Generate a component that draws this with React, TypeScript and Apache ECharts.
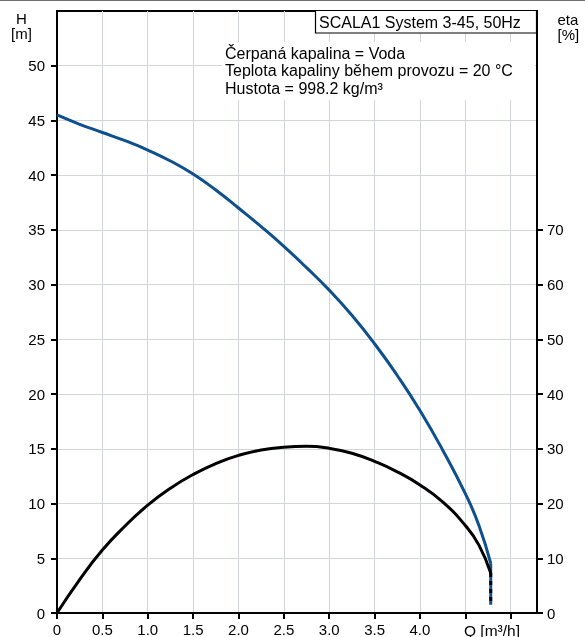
import React, { useEffect, useRef } from "react";
import * as echarts from "echarts";

const qHead = [0, 0.25, 0.5, 0.75, 1.0, 1.25, 1.5, 1.75, 2.0, 2.25, 2.5, 2.75, 3.0, 3.25, 3.5, 3.75, 4.0, 4.25, 4.5, 4.65, 4.78];
const headValues = [45.5, 44.65, 43.9, 43.15, 42.3, 41.3, 40.1, 38.65, 37.0, 35.3, 33.5, 31.55, 29.5, 27.2, 24.6, 21.7, 18.5, 14.9, 10.9, 8.0, 4.54];
const qEta = [0, 0.25, 0.5, 0.75, 1.0, 1.25, 1.5, 1.75, 2.0, 2.25, 2.5, 2.75, 3.0, 3.25, 3.5, 3.75, 4.0, 4.25, 4.5, 4.65, 4.78];
const etaValues = [0, 6.1, 11.5, 15.9, 19.7, 22.8, 25.3, 27.3, 28.8, 29.8, 30.3, 30.45, 30.1, 29.2, 27.7, 25.8, 23.4, 20.3, 16.0, 12.4, 7.3];
const headTail = [[4.78, 4.54], [4.78, 0.76]];
const etaTail = [[4.78, 7.3], [4.78, 1.5]];

const xTicks = [0, 0.5, 1.0, 1.5, 2.0, 2.5, 3.0, 3.5, 4.0, 4.5, 5.0];
const xLabels = [0, 0.5, 1.0, 1.5, 2.0, 2.5, 3.0, 3.5, 4.0];
const hTicks = [0, 5, 10, 15, 20, 25, 30, 35, 40, 45, 50];
const etaTicks = [0, 10, 20, 30, 40, 50, 60, 70];

const title = "SCALA1 System 3-45, 50Hz";
const notes = ["Čerpaná kapalina = Voda", "Teplota kapaliny během provozu = 20 °C", "Hustota = 998.2 kg/m³"];

const FONT = "'Liberation Sans', Arial, sans-serif";
const BLUE = "#0e4f8e";

export default function App() {
  const ref = useRef<HTMLDivElement>(null);
  useEffect(() => {
    if (!ref.current) return;
    const chart = echarts.init(ref.current, null, { renderer: "svg" });
    const txt = (text: string, x: number, y: number, align = "left", size = 16) => ({
      type: "text",
      x,
      y,
      z: 101,
      style: { text, fill: "#000", font: `${size}px ${FONT}`, textAlign: align, textVerticalAlign: "middle" },
    });
    chart.setOption({
      animation: false,
      textStyle: { fontFamily: FONT },
      grid: { left: 57, right: 48, top: 11, bottom: 20, show: true, borderColor: "#000", borderWidth: 2, backgroundColor: "transparent" },
      xAxis: {
        type: "value",
        min: 0,
        max: 5.29,
        interval: 0.5,
        axisLine: { onZero: false, lineStyle: { color: "#000", width: 2 } },
        axisTick: { length: 6, lineStyle: { color: "#000", width: 2 }, customValues: xTicks },
        axisLabel: {
          customValues: xLabels,
          color: "#000",
          fontSize: 15,
          margin: 9,
          formatter: (v: number) => (v === 0 ? "0" : v.toFixed(1)),
        },
        splitLine: { show: true, lineStyle: { color: "#d2d5d9", width: 1 } },
      },
      yAxis: [
        {
          type: "value",
          min: 0,
          max: 55,
          interval: 5,
          axisLine: { show: true, lineStyle: { color: "#000", width: 2 } },
          axisTick: { show: true, length: 6, lineStyle: { color: "#000", width: 2 }, customValues: hTicks },
          axisLabel: { customValues: hTicks, color: "#000", fontSize: 15, margin: 12 },
          splitLine: { show: true, lineStyle: { color: "#d2d5d9", width: 1 } },
        },
        {
          type: "value",
          position: "right",
          min: 0,
          max: 110,
          interval: 10,
          axisLine: { show: true, lineStyle: { color: "#000", width: 2 } },
          axisTick: { show: true, length: 6, lineStyle: { color: "#000", width: 2 }, customValues: etaTicks },
          axisLabel: { customValues: etaTicks, color: "#000", fontSize: 15, margin: 10 },
          splitLine: { show: false },
        },
      ],
      series: [
        {
          type: "line",
          yAxisIndex: 0,
          data: qHead.map((q, i) => [q, headValues[i]]),
          smooth: 0.5,
          symbol: "none",
          silent: true,
          lineStyle: { color: BLUE, width: 3 },
          z: 3,
        },
        {
          type: "line",
          yAxisIndex: 1,
          data: qEta.map((q, i) => [q, etaValues[i]]),
          smooth: 0.5,
          symbol: "none",
          silent: true,
          lineStyle: { color: "#000", width: 3 },
          z: 4,
        },
        {
          type: "line",
          yAxisIndex: 0,
          data: headTail,
          symbol: "none",
          silent: true,
          lineStyle: { color: BLUE, width: 3 },
          z: 3,
        },
        {
          type: "line",
          yAxisIndex: 1,
          data: etaTail,
          symbol: "none",
          silent: true,
          lineStyle: { color: "#000", width: 3, type: [4, 4] },
          z: 4,
        },
      ],
      graphic: [
        { type: "rect", z: 100, shape: { x: 0, y: 0, width: 585, height: 1 }, style: { fill: "#6e6e6e" } },
        { type: "rect", z: 100, shape: { x: 222, y: 42, width: 313, height: 58 }, style: { fill: "#fff" } },
        { type: "rect", z: 100, shape: { x: 315.5, y: 10.5, width: 221, height: 22.5 }, style: { fill: "#fff", stroke: "#000", lineWidth: 1.2 } },
        txt(title, 319, 22.5),
        txt(notes[0], 225, 53),
        txt(notes[1], 225, 70.5),
        txt(notes[2], 225, 88),
        txt("H", 21.5, 18, "center", 15),
        txt("[m]", 21.5, 33.5, "center", 15),
        txt("eta", 557.5, 19, "left", 15),
        txt("[%]", 557.5, 34.5, "left", 15),
        txt("Q [m³/h]", 464, 630, "left", 15.5),
      ],
    });
    return () => chart.dispose();
  }, []);
  return <div ref={ref} style={{ position: "fixed", left: 0, top: 0, width: 585, height: 637 }} />;
}
